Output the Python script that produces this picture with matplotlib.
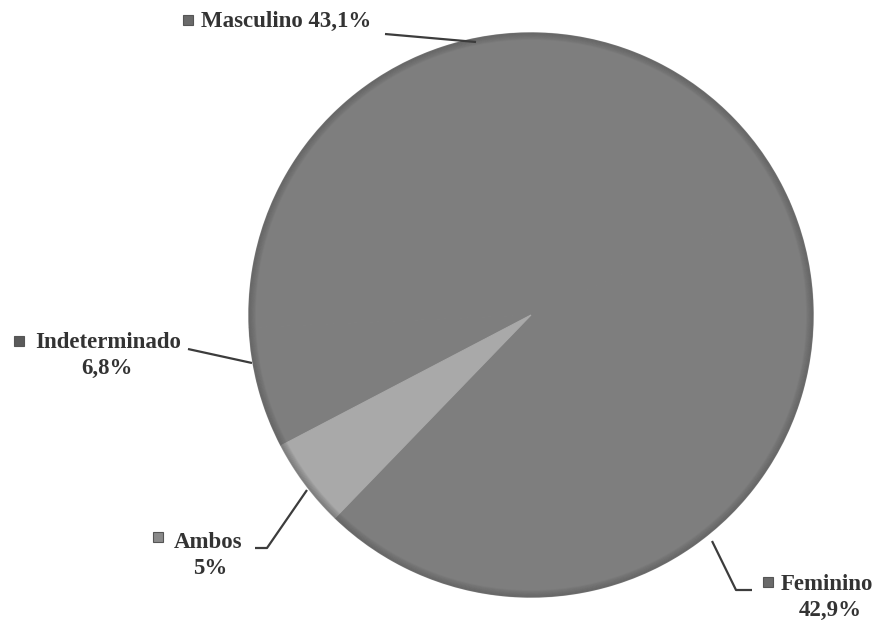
import matplotlib.pyplot as plt
from matplotlib.patches import Circle

# datos (orden antihorario desde el angulo inicial)
categorias = ["Feminino", "Masculino", "Indeterminado", "Ambos"]
porcentajes = [42.9, 43.1, 6.8, 5.0]
etiquetas = ["42,9%", "43,1%", "6,8%", "5%"]

W, H = 879, 623


def py(y):
    """coordenada vertical en pixeles (desde arriba) -> datos"""
    return H - y


fig = plt.figure(figsize=(W / 100, H / 100), dpi=100)
ax = fig.add_axes([0, 0, 1, 1])

gris = "#7e7e7e"
claro = "#a9a9a9"
colores = [gris, gris, gris, claro]

cx, cy, r = 531, 315, 282
wedges, _ = ax.pie(porcentajes, colors=colores, startangle=226,
                   center=(cx, py(cy)), radius=r)
for w, c in zip(wedges, colores):
    w.set_edgecolor(c)
    w.set_linewidth(0.8)

# borde sombreado
for k in range(7):
    ax.add_patch(Circle((cx, py(cy)), r - k, fill=False,
                        edgecolor="#505050", lw=1.2, alpha=0.35 - k * 0.045))

ax.set_xlim(0, W)
ax.set_ylim(0, H)
ax.set_aspect("equal")
ax.axis("off")

lc = "#3c3c3c"
fuente = dict(family="Liberation Serif", weight="bold", size=16.5, color="#333333")


def linea(puntos):
    xs = [p[0] for p in puntos]
    ys = [py(p[1]) for p in puntos]
    ax.plot(xs, ys, color=lc, lw=1.6, solid_capstyle="butt")


def cuadro(x, y, color):
    ax.plot(x, py(y), marker="s", ms=6.5, color=color, mec="#555555", mew=0.8)


# Masculino
linea([(385, 34), (476, 42)])
cuadro(188, 20, "#6a6a6a")
ax.text(201, py(21), f"{categorias[1]} {etiquetas[1]}", ha="left", va="center", **fuente)

# Indeterminado
linea([(188, 349), (252, 363)])
cuadro(19, 341, "#5a5a5a")
ax.text(35, py(343), categorias[2], ha="left", va="center", **fuente)
ax.text(107, py(368), etiquetas[2], ha="center", va="center", **fuente)

# Ambos
linea([(307, 490), (267, 548), (255, 548)])
cuadro(158, 537, "#8a8a8a")
ax.text(174, py(542), categorias[3], ha="left", va="center", **fuente)
ax.text(210, py(568), etiquetas[3], ha="center", va="center", **fuente)

# Feminino
linea([(712, 541), (736, 590), (752, 590)])
cuadro(768, 582, "#6a6a6a")
ax.text(781, py(585), categorias[0], ha="left", va="center", **fuente)
ax.text(830, py(610), etiquetas[0], ha="center", va="center", **fuente)

fig.savefig("out.png", dpi=100, facecolor="white")
